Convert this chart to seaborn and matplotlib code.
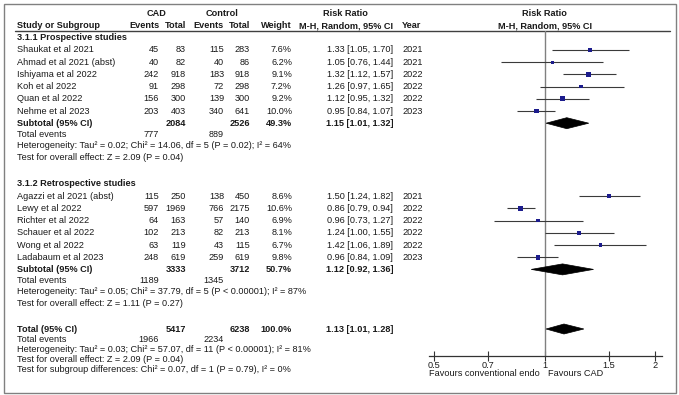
#! /usr/bin/env python3
# -*- coding: utf-8 -*-

import numpy as np
import pandas as pd
import matplotlib
matplotlib.use('Agg')
import matplotlib.pyplot as plt
from matplotlib.patches import Polygon, Rectangle
import seaborn as sns


###DATA###
pro_names = ['Shaukat et al 2021', 'Ahmad et al 2021 (abst)', 'Ishiyama et al 2022',
             'Koh et al 2022', 'Quan et al 2022', 'Nehme et al 2023']
pro_cad_ev = [45, 40, 242, 91, 156, 203]
pro_cad_n = [83, 82, 918, 298, 300, 403]
pro_ctl_ev = [115, 40, 183, 72, 139, 340]
pro_ctl_n = [283, 86, 918, 298, 300, 641]
pro_weight = [7.6, 6.2, 9.1, 7.2, 9.2, 10.0]
pro_rr = [1.33, 1.05, 1.32, 1.26, 1.12, 0.95]
pro_lo = [1.05, 0.76, 1.12, 0.97, 0.95, 0.84]
pro_hi = [1.70, 1.44, 1.57, 1.65, 1.32, 1.07]
pro_year = [2021, 2021, 2022, 2022, 2022, 2023]

retro_names = ['Agazzi et al 2021 (abst)', 'Lewy et al 2022', 'Richter et al 2022',
               'Schauer et al 2022', 'Wong et al 2022', 'Ladabaum et al 2023']
retro_cad_ev = [115, 597, 64, 102, 63, 248]
retro_cad_n = [250, 1969, 163, 213, 119, 619]
retro_ctl_ev = [138, 766, 57, 82, 43, 259]
retro_ctl_n = [450, 2175, 140, 213, 115, 619]
retro_weight = [8.6, 10.6, 6.9, 8.1, 6.7, 9.8]
retro_rr = [1.50, 0.86, 0.96, 1.24, 1.42, 0.96]
retro_lo = [1.24, 0.79, 0.73, 1.00, 1.06, 0.84]
retro_hi = [1.82, 0.94, 1.27, 1.55, 1.89, 1.09]
retro_year = [2021, 2022, 2022, 2022, 2022, 2023]

#pooled: [CAD total, control total, weight, rr, lo, hi]
pro_pooled = [2084, 2526, 49.3, 1.15, 1.01, 1.32]
retro_pooled = [3333, 3712, 50.7, 1.12, 0.92, 1.36]
all_pooled = [5417, 6238, 100.0, 1.13, 1.01, 1.28]

pro_events = [777, 889]
retro_events = [1189, 1345]
all_events = [1966, 2234]

pro_het = 'Heterogeneity: Tau\u00b2 = 0.02; Chi\u00b2 = 14.06, df = 5 (P = 0.02); I\u00b2 = 64%'
retro_het = 'Heterogeneity: Tau\u00b2 = 0.05; Chi\u00b2 = 37.79, df = 5 (P < 0.00001); I\u00b2 = 87%'
all_het = 'Heterogeneity: Tau\u00b2 = 0.03; Chi\u00b2 = 57.07, df = 11 (P < 0.00001); I\u00b2 = 81%'
pro_z = 'Test for overall effect: Z = 2.09 (P = 0.04)'
retro_z = 'Test for overall effect: Z = 1.11 (P = 0.27)'
all_z = 'Test for overall effect: Z = 2.09 (P = 0.04)'
subgroup_test = 'Test for subgroup differences: Chi\u00b2 = 0.07, df = 1 (P = 0.79), I\u00b2 = 0%'

xticks = [0.5, 0.7, 1, 1.5, 2]
xtick_labels = ['0.5', '0.7', '1', '1.5', '2']


###LAYOUT###
W, H = 679, 395
ROW_H, SUM_H, TOT_H = 12.2, 11.3, 10.2
Y_HEAD1, Y_HEAD2 = 13.4, 25.6
Y_PRO, Y_RETRO, Y_TOTAL = 37.8, 184, 329
X_STUDY, X_CAD_EV, X_CAD_N, X_CTL_EV, X_CTL_N = 17, 159, 186, 224, 250
X_WT, X_RR, X_YEAR = 292, 393, 402
AX_L, AX_R, AX_B, AX_T = 429, 662, 356, 31
FS = 6.6
TXT = '#1a1a1a'


sns.set_style('white')
plt.rcParams['font.family'] = ['Liberation Sans', 'DejaVu Sans']

fig = plt.figure(figsize=(W/100, H/100), dpi=100)
ax = fig.add_axes([0, 0, 1, 1])
ax.set_xlim(0, W)
ax.set_ylim(H, 0)
ax.set_axis_off()

fx = fig.add_axes([AX_L/W, (H-AX_B)/H, (AX_R-AX_L)/W, (AX_B-AX_T)/H])
fx.set_xscale('log')
fx.set_xlim(0.4845, 2.09)
fx.set_ylim(AX_B, AX_T)
fx.patch.set_alpha(0)


def txt(x, y, s, ha='left', bold=False):
	ax.text(x, y, s, ha=ha, va='center', fontsize=FS, color=TXT,
	        fontweight='bold' if bold else 'normal')


#Header
txt(157, Y_HEAD1, 'CAD', ha='center', bold=True)
txt(222, Y_HEAD1, 'Control', ha='center', bold=True)
txt(345, Y_HEAD1, 'Risk Ratio', ha='center', bold=True)
txt(X_STUDY, Y_HEAD2, 'Study or Subgroup', bold=True)
txt(X_CAD_EV, Y_HEAD2, 'Events', ha='right', bold=True)
txt(X_CAD_N, Y_HEAD2, 'Total', ha='right', bold=True)
txt(X_CTL_EV, Y_HEAD2, 'Events', ha='right', bold=True)
txt(X_CTL_N, Y_HEAD2, 'Total', ha='right', bold=True)
txt(X_WT, Y_HEAD2, 'Weight', ha='right', bold=True)
txt(X_RR, Y_HEAD2, 'M-H, Random, 95% CI', ha='right', bold=True)
txt(X_YEAR, Y_HEAD2, 'Year', bold=True)
fx.text(1, Y_HEAD1, 'Risk Ratio', ha='center', va='center', fontsize=FS, color=TXT, fontweight='bold')
fx.text(1, Y_HEAD2, 'M-H, Random, 95% CI', ha='center', va='center', fontsize=FS, color=TXT, fontweight='bold')
ax.plot([15, 670], [AX_T, AX_T], color='#404040', lw=1)


def draw_pooled(y, label, pooled, half_h):
	n1, n2, w, est, lo, hi = pooled
	txt(X_STUDY, y, label, bold=True)
	txt(X_CAD_N, y, str(n1), ha='right', bold=True)
	txt(X_CTL_N, y, str(n2), ha='right', bold=True)
	txt(X_WT, y, '%.1f%%' % w, ha='right', bold=True)
	txt(X_RR, y, '%.2f [%.2f, %.2f]' % (est, lo, hi), ha='right', bold=True)
	fx.add_patch(Polygon([(lo, y), (est, y-half_h), (hi, y), (est, y+half_h)],
	                     closed=True, facecolor='black', edgecolor='black', lw=0.5, zorder=3))


def draw_group(y0, title, names, cad_ev, cad_n, ctl_ev, ctl_n, weight, rr, lo, hi, year,
               pooled, events, het, ztest):
	txt(X_STUDY, y0, title, bold=True)
	rows = []
	for i in range(len(names)):
		y = y0 + ROW_H*(i+1)
		rows.append(y)
		txt(X_STUDY, y, names[i])
		txt(X_CAD_EV, y, str(cad_ev[i]), ha='right')
		txt(X_CAD_N, y, str(cad_n[i]), ha='right')
		txt(X_CTL_EV, y, str(ctl_ev[i]), ha='right')
		txt(X_CTL_N, y, str(ctl_n[i]), ha='right')
		txt(X_WT, y, '%.1f%%' % weight[i], ha='right')
		txt(X_RR, y, '%.2f [%.2f, %.2f]' % (rr[i], lo[i], hi[i]), ha='right')
		txt(X_YEAR, y, str(year[i]))

	df = pd.DataFrame({'rr': rr, 'y': rows, 'w': weight, 'lo': lo, 'hi': hi})
	fx.hlines(df['y'], df['lo'], df['hi'], color='#3a3a3a', lw=0.8, zorder=2)
	sns.scatterplot(data=df, x='rr', y='y', size='w', sizes=(5, 14), size_norm=(6.2, 10.6),
	                marker='s', color='#1c1c8c', edgecolor='none', linewidth=0,
	                legend=False, ax=fx, zorder=3)

	ys = y0 + ROW_H*(len(names)+1)
	draw_pooled(ys, 'Subtotal (95% CI)', pooled, 5.5)
	txt(X_STUDY, ys+SUM_H, 'Total events')
	txt(X_CAD_EV, ys+SUM_H, str(events[0]), ha='right')
	txt(X_CTL_EV, ys+SUM_H, str(events[1]), ha='right')
	txt(X_STUDY, ys+2*SUM_H, het)
	txt(X_STUDY, ys+3*SUM_H, ztest)


draw_group(Y_PRO, '3.1.1 Prospective studies', pro_names, pro_cad_ev, pro_cad_n, pro_ctl_ev,
           pro_ctl_n, pro_weight, pro_rr, pro_lo, pro_hi, pro_year,
           pro_pooled, pro_events, pro_het, pro_z)
draw_group(Y_RETRO, '3.1.2 Retrospective studies', retro_names, retro_cad_ev, retro_cad_n,
           retro_ctl_ev, retro_ctl_n, retro_weight, retro_rr, retro_lo, retro_hi, retro_year,
           retro_pooled, retro_events, retro_het, retro_z)

draw_pooled(Y_TOTAL, 'Total (95% CI)', all_pooled, 5)
txt(X_STUDY, Y_TOTAL+TOT_H, 'Total events')
txt(X_CAD_EV, Y_TOTAL+TOT_H, str(all_events[0]), ha='right')
txt(X_CTL_EV, Y_TOTAL+TOT_H, str(all_events[1]), ha='right')
txt(X_STUDY, Y_TOTAL+2*TOT_H, all_het)
txt(X_STUDY, Y_TOTAL+3*TOT_H, all_z)
txt(X_STUDY, Y_TOTAL+4*TOT_H, subgroup_test)

#Forest axis
fx.axvline(1, color='#808080', lw=1, zorder=1)
fx.set_xticks(xticks)
fx.set_xticklabels(xtick_labels)
fx.xaxis.set_minor_locator(matplotlib.ticker.NullLocator())
fx.set_yticks([])
fx.set_xlabel('')
fx.set_ylabel('')
for s in ['top', 'left', 'right']:
	fx.spines[s].set_visible(False)
fx.spines['bottom'].set_color('#333333')
fx.spines['bottom'].set_linewidth(0.9)
fx.tick_params(axis='x', direction='inout', length=7, width=0.8, color='#333333',
               pad=0, labelsize=FS, labelcolor=TXT, bottom=True)
fx.text(0.4845, 374, 'Favours conventional endo', ha='left', va='center', fontsize=FS, color=TXT,
        clip_on=False)
fx.text(1.025, 374, 'Favours CAD', ha='left', va='center', fontsize=FS, color=TXT, clip_on=False)

#Border
ax.add_patch(Rectangle((3.5, 3.5), 672, 389, fill=False, edgecolor='#808080', lw=1))

fig.savefig('out.png', dpi=100)
